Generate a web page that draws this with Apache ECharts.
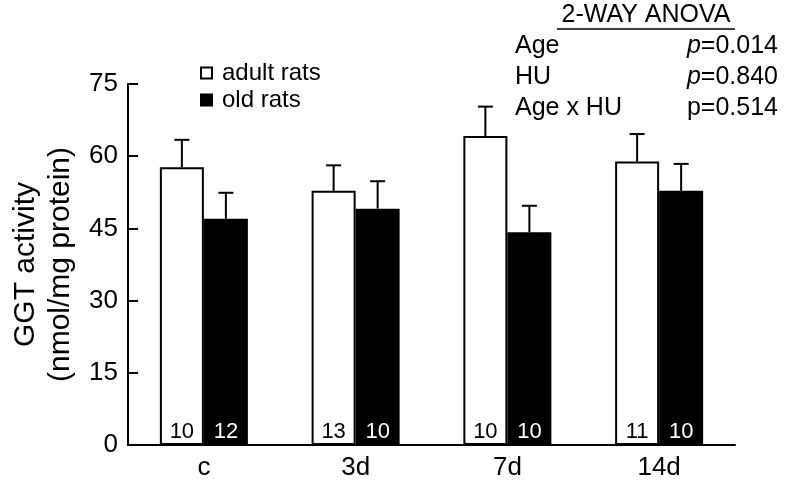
<!DOCTYPE html>
<html><head><meta charset="utf-8">
<script src="https://cdn.jsdelivr.net/npm/echarts@6/dist/echarts.min.js"></script>
<style>html,body{margin:0;padding:0;background:#fff}#c{width:787px;height:486px}</style>
</head><body><div id="c"></div>
<script>
const categories = ['c', '3d', '7d', '14d'];
const adultMean = [57.7, 52.8, 64.2, 58.9];
const adultSE   = [5.7, 5.3, 6.1, 5.7];
const oldMean   = [47.0, 49.1, 44.2, 52.8];
const oldSE     = [5.4, 5.7, 5.5, 5.6];
const adultN    = [10, 13, 10, 11];
const oldN      = [12, 10, 10, 10];
const yTicks    = [0, 15, 30, 45, 60, 75];
const anovaRows = ['Age', 'HU', 'Age x HU'];
const anovaP    = ['0.014', '0.840', '0.514'];
const anovaItalic = [true, true, false];

const FONT = 'Liberation Sans, Arial, sans-serif';
const GAP = 0.42;

const errData = [];
adultMean.forEach((m, i) => errData.push([i, m, adultSE[i], -1]));
oldMean.forEach((m, i) => errData.push([i, m, oldSE[i], 1]));

const chart = echarts.init(document.getElementById('c'), null, {renderer: 'canvas'});

const graphics = [
  {type: 'text', style: {text: '2-WAY ANOVA', x: 646, y: 15, font: '25px ' + FONT, fill: '#000', textAlign: 'center', textVerticalAlign: 'middle'}},
  {type: 'line', shape: {x1: 557, y1: 29, x2: 735, y2: 29}, style: {stroke: '#000', lineWidth: 1.5}}
];
const rowY = [46, 77, 108];
anovaRows.forEach((r, i) => {
  graphics.push({type: 'text', style: {text: r, x: 515, y: rowY[i], font: '25px ' + FONT, fill: '#000', textAlign: 'left', textVerticalAlign: 'middle'}});
  graphics.push({type: 'text', style: {
    text: (anovaItalic[i] ? '{i|p}' : '{n|p}') + '{n|=' + anovaP[i] + '}',
    x: 778, y: rowY[i], textAlign: 'right', textVerticalAlign: 'middle',
    rich: {i: {fontSize: 25, fontStyle: 'italic', fontFamily: FONT, fill: '#000'}, n: {fontSize: 25, fontFamily: FONT, fill: '#000'}}
  }});
});

chart.setOption({
  animation: false,
  backgroundColor: '#fff',
  grid: {left: 123, right: 52, top: 84, bottom: 41, containLabel: false},
  legend: {
    orient: 'vertical', left: 200, top: 61, itemWidth: 11, itemHeight: 11, itemGap: 3,
    icon: 'rect', padding: 0,
    textStyle: {fontSize: 24, fontFamily: FONT, color: '#000', lineHeight: 24, padding: [0, 0, 0, 5]},
    data: ['adult rats', 'old rats']
  },
  xAxis: {
    type: 'category', data: categories,
    axisLine: {lineStyle: {color: '#000', width: 2}},
    axisTick: {show: false},
    axisLabel: {fontSize: 26, fontFamily: FONT, color: '#000', margin: 10}
  },
  yAxis: {
    type: 'value', min: 0, max: 75, interval: 15,
    name: 'GGT activity\n(nmol/mg protein)', nameLocation: 'middle', nameRotate: 90, nameGap: 50,
    nameTextStyle: {fontSize: 30, fontFamily: FONT, color: '#000', lineHeight: 35, padding: [0, 0, 0, 0]},
    axisLine: {show: true, lineStyle: {color: '#000', width: 2}},
    axisTick: {show: true, inside: true, length: 10, lineStyle: {color: '#000', width: 2}},
    splitLine: {show: false},
    axisLabel: {fontSize: 26, fontFamily: FONT, color: '#000', margin: 10,
      formatter: v => yTicks.includes(v) ? String(v) : ''}
  },
  series: [
    {name: 'adult rats', type: 'bar', data: adultMean, barGap: '0%', barCategoryGap: (GAP * 100) + '%',
     itemStyle: {color: '#fff', borderColor: '#000', borderWidth: 2},
     label: {show: true, position: 'insideBottom', distance: 2, fontSize: 22, fontFamily: FONT, color: '#000',
       formatter: p => String(adultN[p.dataIndex])}},
    {name: 'old rats', type: 'bar', data: oldMean,
     itemStyle: {color: '#000', borderColor: '#000', borderWidth: 2},
     label: {show: true, position: 'insideBottom', distance: 2, fontSize: 22, fontFamily: FONT, color: '#fff',
       formatter: p => String(oldN[p.dataIndex])}},
    {type: 'custom', data: errData, z: 5, silent: true,
     renderItem: (params, api) => {
       const idx = api.value(0), m = api.value(1), se = api.value(2), side = api.value(3);
       const band = api.size([1, 0])[0];
       const off = side * band * (1 - GAP) / 4;
       const base = api.coord([idx, m]);
       const top = api.coord([idx, m + se]);
       const x = base[0] + off;
       const cap = 7.5;
       return {type: 'group', children: [
         {type: 'line', shape: {x1: x, y1: base[1], x2: x, y2: top[1]}, style: {stroke: '#000', lineWidth: 2}},
         {type: 'line', shape: {x1: x - cap, y1: top[1], x2: x + cap, y2: top[1]}, style: {stroke: '#000', lineWidth: 2}}
       ]};
     }}
  ],
  graphic: graphics
});
</script></body></html>
